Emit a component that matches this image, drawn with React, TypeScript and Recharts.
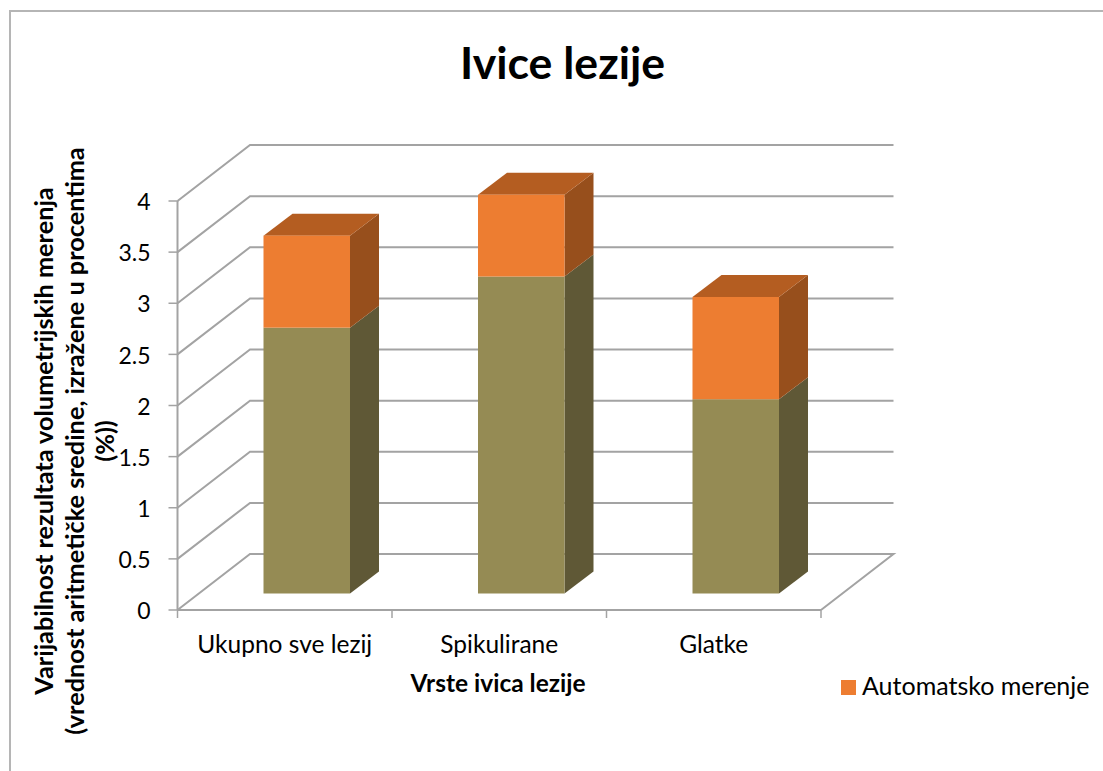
import React from 'react';
import { BarChart, Bar, XAxis, YAxis, CartesianGrid, Legend, Label } from 'recharts';

const categories = ['Ukupno sve lezij', 'Spikulirane', 'Glatke'];
const manualValues = [2.6, 3.1, 1.9];
const autoValues = [0.9, 0.8, 1.0];
const yTicks = [0, 0.5, 1, 1.5, 2, 2.5, 3, 3.5, 4];
const yTitleLines = [
  'Varijabilnost rezultata volumetrijskih merenja',
  '(vrednost aritmetičke sredine, izražene u procentima',
  '(%))',
];

const data = categories.map((name, i) => ({
  name,
  manual: manualValues[i],
  auto: autoValues[i],
}));

const FONT = 'Lato, sans-serif';
const GRID = '#a3a3a3';
const PLOT_W = 643.5;
const BAND = PLOT_W / categories.length;
// wall depth of the fake 3d box
const WALL_DX = 72.5;
const WALL_DY = 56;
// bars stand partway into the floor
const BAR_DX = 22;
const BAR_DY = 16.5;
const BOX_DX = 29;
const BOX_DY = 22;

const Box = (props: any) => {
  const { width, height, front, side, top } = props;
  const x = props.x + BAR_DX;
  const y = props.y - BAR_DY;
  const r = x + width;
  const b = y + height;
  return (
    <g>
      <polygon
        points={`${r},${y} ${r + BOX_DX},${y - BOX_DY} ${r + BOX_DX},${b - BOX_DY} ${r},${b}`}
        fill={side}
      />
      {top && (
        <polygon
          points={`${x},${y} ${x + BOX_DX},${y - BOX_DY} ${r + BOX_DX},${y - BOX_DY} ${r},${y}`}
          fill={top}
        />
      )}
      <rect x={x} y={y} width={width} height={height} fill={front} />
    </g>
  );
};

const GridLine = (props: any) => {
  const { x1, x2, y1, index } = props;
  const by = y1 - WALL_DY;
  const isFloor = y1 > 600;
  return (
    <polyline
      key={index}
      points={
        `${x1},${y1} ${x1 + WALL_DX},${by} ${x2 + WALL_DX},${by}` +
        (isFloor ? ` ${x2},${y1}` : '')
      }
      fill="none"
      stroke={GRID}
      strokeWidth={2}
    />
  );
};

const XTick = (props: any) => {
  const { x, y, payload, index } = props;
  const left = x - BAND / 2;
  return (
    <g>
      <line x1={left} x2={left} y1={y} y2={y + 8} stroke={GRID} strokeWidth={1.5} />
      {index === categories.length - 1 && (
        <line x1={left + BAND} x2={left + BAND} y1={y} y2={y + 8} stroke={GRID} strokeWidth={1.5} />
      )}
      <text x={x} y={y + 43} textAnchor="middle" fontFamily={FONT} fontSize={24.5} fill="#000">
        {payload.value}
      </text>
    </g>
  );
};

const YTitle = () => (
  <text
    transform="translate(0,441) rotate(-90)"
    textAnchor="middle"
    fontFamily={FONT}
    fontSize={25.3}
    fontWeight={700}
    fill="#000"
  >
    {yTitleLines.map((line, i) => (
      <tspan key={line} x={0} y={53 + i * 30.5}>
        {line}
      </tspan>
    ))}
  </text>
);

export default function App() {
  return (
    <div style={{ position: 'absolute', left: 0, top: 0, width: 1103, height: 771, overflow: 'hidden', background: '#fff' }}>
      <div style={{ position: 'absolute', left: 9, top: 10, width: 1094, height: 761, borderTop: '2px solid #b5b5b5', borderLeft: '2px solid #b5b5b5' }} />
      <div
        style={{
          position: 'absolute',
          left: 0,
          width: 1125,
          top: 37,
          textAlign: 'center',
          fontFamily: FONT,
          fontWeight: 700,
          fontSize: 44.6,
          lineHeight: '50px',
          color: '#000',
        }}
      >
        Ivice lezije
      </div>
      <BarChart
        width={1103}
        height={771}
        data={data}
        margin={{ top: 201, right: 282, bottom: 101, left: 77.5 }}
        barSize={86.5}
        style={{ position: 'absolute', left: 0, top: 0 }}
      >
        <CartesianGrid vertical={false} horizontal={GridLine} />
        <XAxis
          dataKey="name"
          height={60}
          interval={0}
          axisLine={{ stroke: GRID, strokeWidth: 2 }}
          tickLine={false}
          tickSize={0}
          tickMargin={0}
          tick={XTick}
        >
          <Label
            content={() => (
              <text x={498} y={692} textAnchor="middle" fontFamily={FONT} fontSize={24.5} fontWeight={700} fill="#000">
                Vrste ivica lezije
              </text>
            )}
          />
        </XAxis>
        <YAxis
          width={100}
          domain={[0, 4]}
          ticks={yTicks}
          interval={0}
          axisLine={{ stroke: GRID, strokeWidth: 2 }}
          tickLine={{ stroke: GRID, strokeWidth: 1.5 }}
          tickSize={9}
          tickMargin={18}
          tick={{ fontFamily: FONT, fontSize: 23, fill: '#000', dy: 1 }}
        >
          <Label content={YTitle} />
        </YAxis>
        <Legend
          layout="vertical"
          align="center"
          verticalAlign="middle"
          iconType="square"
          iconSize={15}
          wrapperStyle={{ position: 'absolute', left: 841, top: 669, width: 262, fontFamily: FONT, fontSize: 25 }}
          formatter={(value: string) => (
            <span style={{ color: '#000', position: 'relative', left: 2, top: 1 }}>{value}</span>
          )}
        />
        <Bar
          dataKey="manual"
          stackId="a"
          legendType="none"
          fill="#958b54"
          isAnimationActive={false}
          shape={(p: any) => <Box {...p} front="#958b54" side="#5f5836" />}
        />
        <Bar
          dataKey="auto"
          name="Automatsko merenje"
          stackId="a"
          fill="#ed7d31"
          isAnimationActive={false}
          shape={(p: any) => <Box {...p} front="#ed7d31" side="#974f1c" top="#b45d21" />}
        />
      </BarChart>
    </div>
  );
}
